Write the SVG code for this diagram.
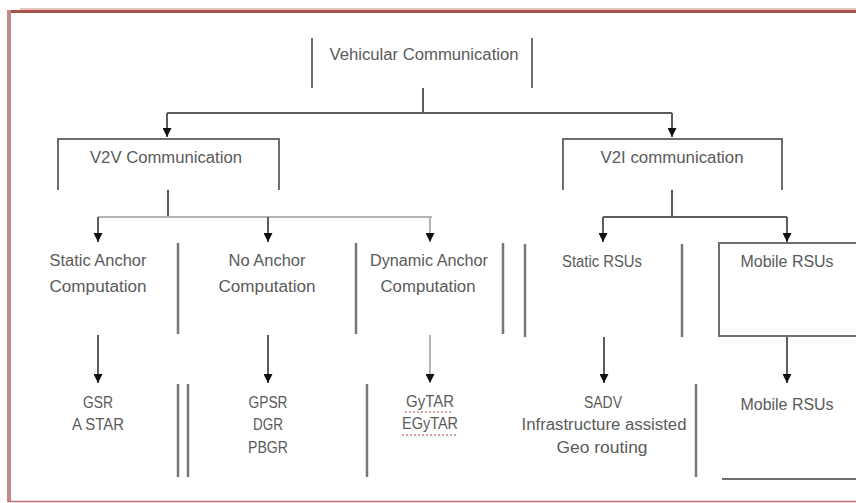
<svg xmlns="http://www.w3.org/2000/svg" width="856" height="503" viewBox="0 0 856 503">
<style>
  .t { font-family: "Liberation Sans", Arial, sans-serif; font-size: 16px; fill: #5a5a5a; text-anchor: middle; }
  .br { fill: none; stroke: #6e6e6e; stroke-width: 2; }
  .sep { fill: none; stroke: #777; stroke-width: 2.5; }
  .c { fill: none; stroke: #5c5c5c; stroke-width: 2; }
  .cl { fill: none; stroke: #b4b4b4; stroke-width: 2; }
  .sq { fill: none; stroke: #c98585; stroke-width: 1.5; stroke-dasharray: 2 2; }
</style>
<defs>
  <marker id="ah" viewBox="0 0 10 10" refX="10" refY="5" markerWidth="4.5" markerHeight="4.5" orient="auto" markerUnits="strokeWidth">
    <path d="M0,0 L10,5 L0,10 z" fill="#111"/>
  </marker>
</defs>
<rect width="856" height="503" fill="#ffffff"/>
<g id="frame">
  <line x1="20" y1="9" x2="856" y2="9" stroke="#e6c4bc" stroke-width="2"/>
  <line x1="8" y1="11.5" x2="856" y2="11.5" stroke="#a8504c" stroke-width="3"/>
  <line x1="9" y1="10" x2="9" y2="502" stroke="#c08a85" stroke-width="4"/>
  <line x1="8" y1="501.5" x2="856" y2="501.5" stroke="#c07070" stroke-width="1.5"/>
</g>
<g id="connectors">
  <path class="c" d="M423,88 V113"/>
  <path class="c" d="M167,113 H672"/>
  <path class="c" d="M167,113 V137" marker-end="url(#ah)"/>
  <path class="c" d="M672,113 V137" marker-end="url(#ah)"/>
  <path class="c" d="M168,190 V217"/>
  <path class="cl" d="M98,217 H432"/>
  <path class="c" d="M98,217 V242" marker-end="url(#ah)"/>
  <path class="c" d="M268,217 V242" marker-end="url(#ah)"/>
  <path class="cl" d="M430,217 V242" marker-end="url(#ah)"/>
  <path class="c" d="M672,190 V217"/>
  <path class="c" d="M603,217 H787"/>
  <path class="c" d="M603,217 V242" marker-end="url(#ah)"/>
  <path class="c" d="M787,217 V242" marker-end="url(#ah)"/>
  <path class="c" d="M98,335 V383" marker-end="url(#ah)"/>
  <path class="c" d="M268,335 V383" marker-end="url(#ah)"/>
  <path class="cl" d="M430,335 V383" marker-end="url(#ah)"/>
  <path class="c" d="M604,337 V383" marker-end="url(#ah)"/>
  <path class="c" d="M787,336 V383" marker-end="url(#ah)"/>
</g>
<g id="vehicular">
  <path class="br" d="M312,38 V88 M532,38 V88"/>
  <text class="t" x="424" y="60" textLength="189" lengthAdjust="spacingAndGlyphs">Vehicular Communication</text>
</g>
<g id="v2v">
  <path class="br" d="M58,190 V139 H279 V190"/>
  <text class="t" x="166" y="163" textLength="152" lengthAdjust="spacingAndGlyphs">V2V Communication</text>
</g>
<g id="v2i">
  <path class="br" d="M563,190 V139 H782 V190"/>
  <text class="t" x="672" y="163" textLength="143" lengthAdjust="spacingAndGlyphs">V2I communication</text>
</g>
<g id="static-anchor">
  <text class="t" x="98" y="266" textLength="97" lengthAdjust="spacingAndGlyphs">Static Anchor</text>
  <text class="t" x="98" y="292" textLength="97" lengthAdjust="spacingAndGlyphs">Computation</text>
</g>
<g id="no-anchor">
  <path class="sep" d="M178,243 V334"/>
  <text class="t" x="267" y="266" textLength="77" lengthAdjust="spacingAndGlyphs">No Anchor</text>
  <text class="t" x="267" y="292" textLength="97" lengthAdjust="spacingAndGlyphs">Computation</text>
</g>
<g id="dynamic-anchor">
  <path class="sep" d="M356,243 V334"/>
  <text class="t" x="429" y="266" textLength="118" lengthAdjust="spacingAndGlyphs">Dynamic Anchor</text>
  <text class="t" x="428" y="292" textLength="95" lengthAdjust="spacingAndGlyphs">Computation</text>
</g>
<g id="static-rsus">
  <path class="sep" d="M503,243 V334 M525,244 V337"/>
  <text class="t" x="602" y="267" textLength="80" lengthAdjust="spacingAndGlyphs">Static RSUs</text>
</g>
<g id="mobile-rsus">
  <path class="sep" d="M682,244 V337"/>
  <path class="br" d="M856,243 H719 V336 H856"/>
  <text class="t" x="787" y="267" textLength="93" lengthAdjust="spacingAndGlyphs">Mobile RSUs</text>
</g>
<g id="gsr">
  <text class="t" x="98" y="408" textLength="30" lengthAdjust="spacingAndGlyphs">GSR</text>
  <text class="t" x="98" y="430" textLength="52" lengthAdjust="spacingAndGlyphs">A STAR</text>
</g>
<g id="gpsr">
  <path class="sep" d="M178,384 V477 M188,384 V477"/>
  <text class="t" x="268" y="408" textLength="39" lengthAdjust="spacingAndGlyphs">GPSR</text>
  <text class="t" x="268" y="430" textLength="30" lengthAdjust="spacingAndGlyphs">DGR</text>
  <text class="t" x="268" y="453" textLength="40" lengthAdjust="spacingAndGlyphs">PBGR</text>
</g>
<g id="gytar">
  <path class="sep" d="M367,384 V477"/>
  <text class="t" x="430" y="407" textLength="48" lengthAdjust="spacingAndGlyphs">GyTAR</text>
  <text class="t" x="430" y="429" textLength="56" lengthAdjust="spacingAndGlyphs">EGyTAR</text>
  <path class="sq" d="M405,412 H453 M402,435 H458"/>
</g>
<g id="sadv">
  <text class="t" x="603" y="408" textLength="38" lengthAdjust="spacingAndGlyphs">SADV</text>
  <text class="t" x="604" y="430" textLength="165" lengthAdjust="spacingAndGlyphs">Infrastructure assisted</text>
  <text class="t" x="602" y="453" textLength="91" lengthAdjust="spacingAndGlyphs">Geo routing</text>
</g>
<g id="mobile-rsus-2">
  <path class="sep" d="M696,384 V477"/>
  <path class="br" d="M722,479 H856"/>
  <text class="t" x="787" y="410" textLength="93" lengthAdjust="spacingAndGlyphs">Mobile RSUs</text>
</g>
</svg>
